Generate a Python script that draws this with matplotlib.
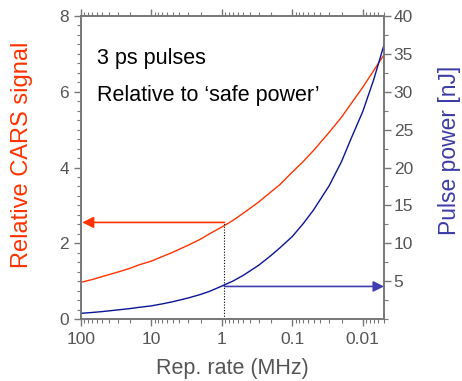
import numpy as np
import matplotlib
matplotlib.use("Agg")
import matplotlib.pyplot as plt
from matplotlib.ticker import MultipleLocator, FixedLocator, LogLocator, NullFormatter, FuncFormatter

plt.rcParams['font.family'] = ['Liberation Sans', 'DejaVu Sans']

# data
rep_rate = [100, 70, 50, 30, 20, 15, 10, 7, 5, 3, 2, 1.5, 1, 0.7, 0.5, 0.3, 0.2, 0.15,
            0.1, 0.07, 0.05, 0.03, 0.02, 0.015, 0.01, 0.007, 0.005]
cars_signal = [0.97, 1.04, 1.12, 1.24, 1.34, 1.43, 1.53, 1.65, 1.76, 1.95, 2.11, 2.25,
               2.43, 2.6, 2.79, 3.09, 3.36, 3.55, 3.88, 4.16, 4.45, 4.93, 5.33, 5.66,
               6.12, 6.56, 6.98]
pulse_power = [0.75, 0.86, 0.98, 1.2, 1.38, 1.54, 1.74, 2.0, 2.28, 2.78, 3.25, 3.65,
               4.35, 5.0, 5.75, 7.1, 8.4, 9.4, 10.9, 12.6, 14.4, 17.6, 20.8, 23.6,
               27.4, 31.6, 36.2]

marker_rate = 0.92
marker_signal = 2.55
marker_power = 4.3

red = '#ff3300'
navy = '#0a1496'
blue_arrow = '#3f3fb0'
grey = '#555555'

fig = plt.figure(figsize=(4.62, 3.81), dpi=100)
ax = fig.add_axes([0.1753, 0.1627, 0.6559, 0.7953])
ax2 = ax.twinx()

ax.plot(rep_rate, cars_signal, color=red, lw=1.0)
ax2.plot(rep_rate, pulse_power, color=navy, lw=1.0)

ax.set_xscale('log')
ax.set_xlim(100, 0.005)
ax.set_ylim(0, 8)
ax2.set_ylim(0, 40)

# arrows and the dotted guide at ~1 MHz
ax.plot([marker_rate, marker_rate], [0, marker_signal], color='black', lw=0.8, ls=(0, (1, 1.5)))
ax.annotate('', xy=(96, marker_signal), xytext=(marker_rate, marker_signal),
            arrowprops=dict(arrowstyle='-|>', color=red, lw=1.2, mutation_scale=17,
                            shrinkA=0, shrinkB=0))
ax2.annotate('', xy=(0.005, marker_power), xytext=(marker_rate, marker_power),
             arrowprops=dict(arrowstyle='-|>', color=blue_arrow, lw=1.2, mutation_scale=16,
                             shrinkA=0, shrinkB=0))

ax.text(0.052, 0.861, '3 ps pulses', transform=ax.transAxes, fontsize=15.5, va='center')
ax.text(0.052, 0.739, 'Relative to \u2018safe power\u2019', transform=ax.transAxes,
        fontsize=15.5, va='center')

# ticks
ax.yaxis.set_major_locator(MultipleLocator(2))
ax.yaxis.set_minor_locator(MultipleLocator(0.25))
ax2.yaxis.set_major_locator(FixedLocator([5, 10, 15, 20, 25, 30, 35, 40]))
ax2.yaxis.set_minor_locator(MultipleLocator(2.5))
ax.xaxis.set_major_locator(FixedLocator([100, 10, 1, 0.1, 0.01]))
ax.xaxis.set_major_formatter(FuncFormatter(lambda v, p: '%g' % v))
ax.xaxis.set_minor_locator(LogLocator(base=10, subs=np.arange(2, 10)))
ax.xaxis.set_minor_formatter(NullFormatter())

for a in (ax, ax2):
    for s in a.spines.values():
        s.set_color('#777777')
        s.set_linewidth(1.2)
    a.tick_params(which='major', length=5, width=1, color='#777777', labelcolor=grey, labelsize=12.5)
    a.tick_params(which='minor', length=3, width=0.8, color='#777777')
ax.tick_params(axis='x', which='both', top=True)
ax.tick_params(axis='x', which='major', pad=4)
ax2.tick_params(axis='y', which='major', pad=2)

ax.set_xlabel('Rep. rate (MHz)', fontsize=15.5, color=grey, labelpad=8)
ax.set_ylabel('Relative CARS signal', fontsize=17, color=red)
ax2.set_ylabel('Pulse power [nJ]', fontsize=16.5, color='#3c3ca8')
ax.yaxis.set_label_coords(-0.158, 0.543)
ax2.yaxis.set_label_coords(1.178, 0.558)

fig.savefig('out.png', dpi=100)
